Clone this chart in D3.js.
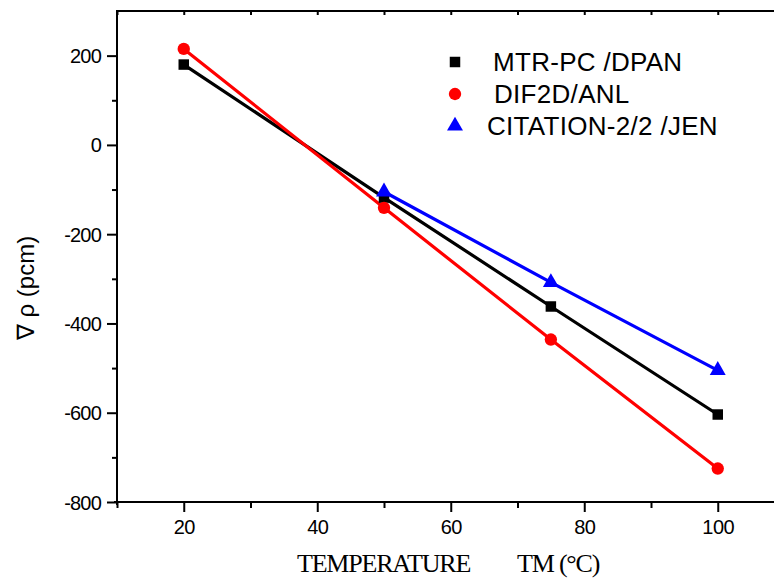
<!DOCTYPE html>
<html>
<head>
<meta charset="utf-8">
<script src="https://cdn.jsdelivr.net/npm/d3@7"></script>
<style>
  body { margin: 0; background: #fff; }
  svg { display: block; }
  text { font-family: "Liberation Sans", Arial, sans-serif; }
</style>
</head>
<body>
<svg id="chart" width="774" height="579"></svg>
<script>
// temperatures (TM, °C)
const temps = [20, 50, 75, 100];
const citTemps = [50, 75, 100];

// reactivity change (pcm)
const mtrValues = [180, -118, -362, -604];
const difValues = [215, -141, -436, -725];
const citValues = [-105, -308, -505];

const seriesNames = ["MTR-PC /DPAN", "DIF2D/ANL", "CITATION-2/2 /JEN"];
const xTicks = [20, 40, 60, 80, 100];
const yTicks = [200, 0, -200, -400, -600, -800];

const svg = d3.select("#chart");
const mLeft = 117, mTop = 11, mBottom = 502;

const x = d3.scaleLinear().domain([10, 110]).range([mLeft, mLeft + 667.5]);
const y = d3.scaleLinear().domain([-800, 300]).range([mBottom, mTop]);

// series
let series = [
  {name: seriesNames[0], color: "#000", shape: d3.symbolSquare, size: 110,
   pts: temps.map((t, i) => [t, mtrValues[i]])},
  {name: seriesNames[1], color: "#ff0000", shape: d3.symbolCircle, size: 120,
   pts: temps.map((t, i) => [t, difValues[i]])},
  {name: seriesNames[2], color: "#0000ff", shape: d3.symbolTriangle, size: 110,
   pts: citTemps.map((t, i) => [t, citValues[i]])}
];

// axes
const minorX = d3.range(10, 111, 10);
const minorY = d3.range(-800, 301, 100);

let gx = svg.append("g").attr("transform", "translate(0," + mBottom + ")");
gx.call(d3.axisBottom(x).tickValues(minorX).tickSize(6).tickFormat(""));
gx.call(g => g.selectAll(".tick").filter(d => xTicks.includes(d)).select("line").attr("y2", 10));
gx.selectAll(".tick").filter(d => xTicks.includes(d)).append("text")
  .attr("y", 32).attr("fill", "#000").attr("font-size", 20)
  .attr("text-anchor", "middle").attr("letter-spacing", -0.5)
  .text(d => d);

let gy = svg.append("g").attr("transform", "translate(" + mLeft + ",0)");
gy.call(d3.axisLeft(y).tickValues(minorY.filter(v => v < 300)).tickSize(5).tickFormat(""));
gy.call(g => g.selectAll(".tick").filter(d => yTicks.includes(d)).select("line").attr("x2", -10));
gy.selectAll(".tick").filter(d => yTicks.includes(d)).append("text")
  .attr("x", -16).attr("dy", "0.35em").attr("fill", "#000").attr("font-size", 20)
  .attr("text-anchor", "end").attr("letter-spacing", -0.8)
  .text(d => d);

let gt = svg.append("g").attr("transform", "translate(0," + mTop + ")");
gt.call(d3.axisBottom(x).tickValues(minorX).tickSize(4).tickFormat(""));

svg.selectAll(".domain").remove();
svg.selectAll(".tick line").attr("stroke", "#000").attr("stroke-width", 2);

// frame lines
svg.append("line").attr("x1", mLeft - 3).attr("x2", 774).attr("y1", mBottom).attr("y2", mBottom)
  .attr("stroke", "#000").attr("stroke-width", 2);
svg.append("line").attr("x1", mLeft - 1).attr("x2", 774).attr("y1", mTop).attr("y2", mTop)
  .attr("stroke", "#000").attr("stroke-width", 2);
svg.append("line").attr("x1", mLeft).attr("x2", mLeft).attr("y1", mTop - 1).attr("y2", mBottom + 3)
  .attr("stroke", "#000").attr("stroke-width", 2);

const line = d3.line().x(d => x(d[0])).y(d => y(d[1]));

series.forEach(s => {
  svg.append("path").datum(s.pts)
    .attr("d", line).attr("fill", "none")
    .attr("stroke", s.color).attr("stroke-width", 3.2);
});
series.forEach(s => {
  svg.append("g").selectAll("path").data(s.pts).join("path")
    .attr("transform", d => "translate(" + x(d[0]) + "," + y(d[1]) + ")")
    .attr("d", d3.symbol().type(s.shape).size(s.size))
    .attr("fill", s.color);
});

// legend
const legendY = [62, 94, 126];
const legendTextX = [493, 494, 487];
series.forEach((s, i) => {
  svg.append("path")
    .attr("transform", "translate(455," + legendY[i] + ")")
    .attr("d", d3.symbol().type(s.shape).size(s.size))
    .attr("fill", s.color);
  svg.append("text")
    .attr("x", legendTextX[i]).attr("y", legendY[i]).attr("dy", "0.36em")
    .attr("font-size", 26).attr("letter-spacing", 0.3)
    .text(s.name);
});

// axis titles
svg.append("text")
  .attr("x", 297).attr("y", 572)
  .style("font-family", "'Liberation Serif', 'Times New Roman', serif")
  .attr("font-size", 26).attr("letter-spacing", -1.2)
  .text("TEMPERATURE");
svg.append("text")
  .attr("x", 517).attr("y", 572)
  .style("font-family", "'Liberation Serif', 'Times New Roman', serif")
  .attr("font-size", 26).attr("letter-spacing", -1.2)
  .text("TM (°C)");

svg.append("text")
  .attr("transform", "translate(34,288) rotate(-90)")
  .attr("text-anchor", "middle").attr("font-size", 24)
  .text("∇ ρ (pcm)");
</script>
</body>
</html>
